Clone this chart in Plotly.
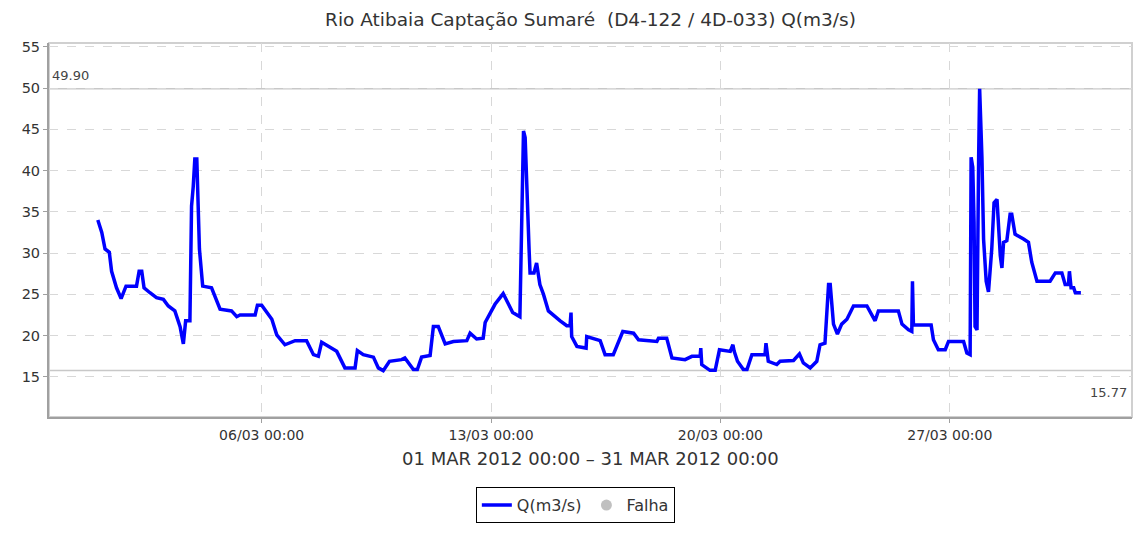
import pandas as pd
import plotly.graph_objects as go

inicio = pd.Timestamp("2012-03-01 00:00")

# dias desde 01/03 00:00 e vazao Q(m3/s)
dias = [0.00, 0.12, 0.22, 0.35, 0.42, 0.57, 0.71, 0.86, 1.18, 1.26, 1.34, 1.41, 1.59, 1.79, 2.00,
        2.15, 2.35, 2.51, 2.61, 2.68, 2.81, 2.86, 2.91, 2.96, 3.02, 3.06, 3.10, 3.20, 3.47, 3.73,
        4.08, 4.24, 4.34, 4.80, 4.87, 5.00, 5.31, 5.46, 5.71, 6.02, 6.37, 6.58, 6.73, 6.83, 7.08,
        7.29, 7.54, 7.85, 7.92, 8.10, 8.41, 8.56, 8.71, 8.90, 9.27, 9.37, 9.63, 9.75, 9.88, 10.14,
        10.24, 10.39, 10.60, 10.85, 11.26, 11.36, 11.56, 11.76, 11.82, 12.12, 12.37, 12.66, 12.88,
        12.94, 12.99, 13.04, 13.09, 13.16, 13.19, 13.31, 13.39, 13.49, 13.60, 13.75, 14.11, 14.31,
        14.41, 14.44, 14.46, 14.62, 14.90, 14.92, 15.33, 15.48, 15.73, 15.89, 16.02, 16.35, 16.50,
        17.06, 17.11, 17.36, 17.52, 17.92, 18.13, 18.38, 18.40, 18.43, 18.68, 18.84, 18.97, 19.30,
        19.38, 19.42, 19.52, 19.70, 19.81, 19.96, 20.36, 20.39, 20.46, 20.72, 20.82, 21.23, 21.41,
        21.53, 21.74, 21.94, 22.04, 22.19, 22.25, 22.30, 22.35, 22.45, 22.57, 22.70, 22.86, 23.06,
        23.47, 23.62, 23.72, 23.82, 24.43, 24.54, 24.74, 24.84, 24.86, 24.89, 25.43, 25.50, 25.65,
        25.86, 25.96, 26.42, 26.52, 26.62, 26.65, 26.70, 26.74, 26.77, 26.83, 26.88, 26.91, 26.98,
        27.03, 27.11, 27.18, 27.28, 27.35, 27.44, 27.48, 27.54, 27.59, 27.64, 27.74, 27.84, 27.89,
        27.99, 28.25, 28.40, 28.50, 28.66, 29.06, 29.22, 29.42, 29.52, 29.62, 29.65, 29.70, 29.78,
        29.83, 30.00]
vazao = [34.0, 32.5, 30.5, 30.1, 27.8, 25.8, 24.5, 26.0, 26.0, 27.8, 27.8, 25.8, 25.2, 24.6, 24.4,
         23.6, 23.0, 21.1, 19.0, 21.8, 21.8, 35.7, 38.0, 41.4, 41.4, 34.9, 30.5, 26.0, 25.8, 23.2,
         23.0, 22.3, 22.5, 22.5, 23.7, 23.7, 22.0, 20.1, 18.9, 19.4, 19.4, 17.7, 17.5, 19.2, 18.6,
         18.1, 16.1, 16.1, 18.2, 17.7, 17.4, 16.1, 15.77, 16.9, 17.1, 17.3, 15.9, 15.9, 17.4, 17.6,
         21.1, 21.1, 19.0, 19.3, 19.4, 20.3, 19.6, 19.7, 21.6, 23.8, 25.1, 22.8, 22.3,
         36.8, 44.8, 44.0, 37.2, 30.5, 27.6, 27.6, 28.8, 26.2, 25.0, 23.0, 21.8, 21.2,
         21.2, 22.8, 19.9, 18.7, 18.5, 19.9, 19.4, 17.7, 17.7, 19.3, 20.5, 20.3, 19.5,
         19.3, 19.7, 19.7, 17.3, 17.1, 17.5, 17.5, 18.5, 16.5, 15.8, 15.8, 18.3, 18.1,
         18.9, 18.1, 16.9, 15.9, 15.9, 17.7, 17.7, 19.1, 16.9, 16.5, 16.9, 17.0, 17.8,
         16.7, 16.1, 16.9, 18.9, 19.1, 24.2, 26.2, 26.2, 21.4, 20.2, 21.4, 22.0, 23.6,
         23.6, 22.4, 21.8, 23.0, 23.0, 21.4, 20.7, 20.5, 26.6, 21.3, 21.3, 19.5, 18.3,
         18.3, 19.3, 19.3, 17.9, 17.7, 41.6, 40.4, 33.7, 21.1, 20.7, 41.6, 49.9, 41.6,
         31.7, 26.6, 25.3, 30.5, 36.1, 36.5, 32.9, 29.7, 28.2, 31.3, 31.5, 34.7, 34.7,
         32.3, 31.7, 31.3, 28.9, 26.6, 26.6, 27.6, 27.6, 26.2, 26.2, 27.8, 25.8, 25.8,
         25.2, 25.2]

tick_datas = ["2012-03-06", "2012-03-13", "2012-03-20", "2012-03-27"]
tick_textos = ["06/03 00:00", "13/03 00:00", "20/03 00:00", "27/03 00:00"]

q_max = 49.90
q_min = 15.77

tempo = inicio + pd.to_timedelta(dias, unit="D")

fonte = "DejaVu Sans"

fig = go.Figure()
fig.add_trace(go.Scatter(x=tempo, y=vazao, mode="lines", name="Q(m3/s)",
                         line=dict(color="#0000ff", width=3.5)))
fig.add_trace(go.Scatter(x=[None], y=[None], mode="markers", name="Falha",
                         marker=dict(color="#c0c0c0", size=11)))

# linhas de maximo e minimo
for v in (q_max, q_min):
    fig.add_shape(type="line", xref="paper", x0=0, x1=1, yref="y", y0=v, y1=v,
                  line=dict(color="#c8c8c8", width=1.5), layer="below")

fig.add_annotation(text=f"{q_max:.2f}", xref="paper", x=0, xanchor="left", xshift=1,
                   yref="y", y=q_max, yanchor="bottom", yshift=4, showarrow=False,
                   font=dict(family=fonte, size=13, color="#444"))
fig.add_annotation(text=f"{q_min:.2f}", xref="paper", x=1, xanchor="right", xshift=-3,
                   yref="y", y=q_min, yanchor="top", yshift=-12, showarrow=False,
                   font=dict(family=fonte, size=13, color="#444"))

# moldura clara em cima e a direita
fig.add_shape(type="rect", xref="paper", yref="paper", x0=0, x1=1, y0=0, y1=1,
              line=dict(color="#d0d0d0", width=2), layer="below")

fig.add_annotation(text="01 MAR 2012 00:00 – 31 MAR 2012 00:00", xref="paper", x=0.5,
                   yref="paper", y=-0.112, yanchor="middle", showarrow=False,
                   font=dict(family=fonte, size=18, color="#333"))

# a pagina tem 8px de margem no body
fig.update_layout(
    width=1135, height=526, autosize=False,
    margin=dict(l=41, r=11, t=35, b=109),
    plot_bgcolor="white", paper_bgcolor="white",
    title=dict(text="Rio Atibaia Captação Sumaré  (D4-122 / 4D-033) Q(m3/s)",
               x=0.5, xref="paper", y=1 - 12 / 526, yanchor="middle",
               font=dict(family=fonte, size=18.5, color="#333")),
    font=dict(family=fonte, color="#444"),
    showlegend=True,
    legend=dict(orientation="h", x=0.486, xanchor="center", y=-0.284, yanchor="bottom",
                bordercolor="black", borderwidth=1, bgcolor="white",
                font=dict(family=fonte, size=16, color="#333"), itemwidth=30),
)

fig.update_xaxes(
    range=["2012-02-28 12:14", "2012-04-01 13:26"], automargin=False,
    tickvals=pd.to_datetime(tick_datas), ticktext=tick_textos,
    tickfont=dict(family=fonte, size=14, color="#333"),
    showgrid=True, gridcolor="#d8d8d8", griddash="dash", gridwidth=1,
    showline=True, linecolor="#a0a0a0", linewidth=2,
    ticks="outside", ticklen=4, tickcolor="#a0a0a0", zeroline=False,
)
fig.update_yaxes(
    range=[10.15, 55.45], tick0=15, dtick=5, automargin=False,
    tickfont=dict(family=fonte, size=14.5, color="#333"),
    showgrid=True, gridcolor="#d8d8d8", griddash="dash", gridwidth=1,
    showline=True, linecolor="#a0a0a0", linewidth=2,
    ticks="outside", ticklen=4, tickcolor="#a0a0a0", zeroline=False,
)

fig.write_html("out.html")
